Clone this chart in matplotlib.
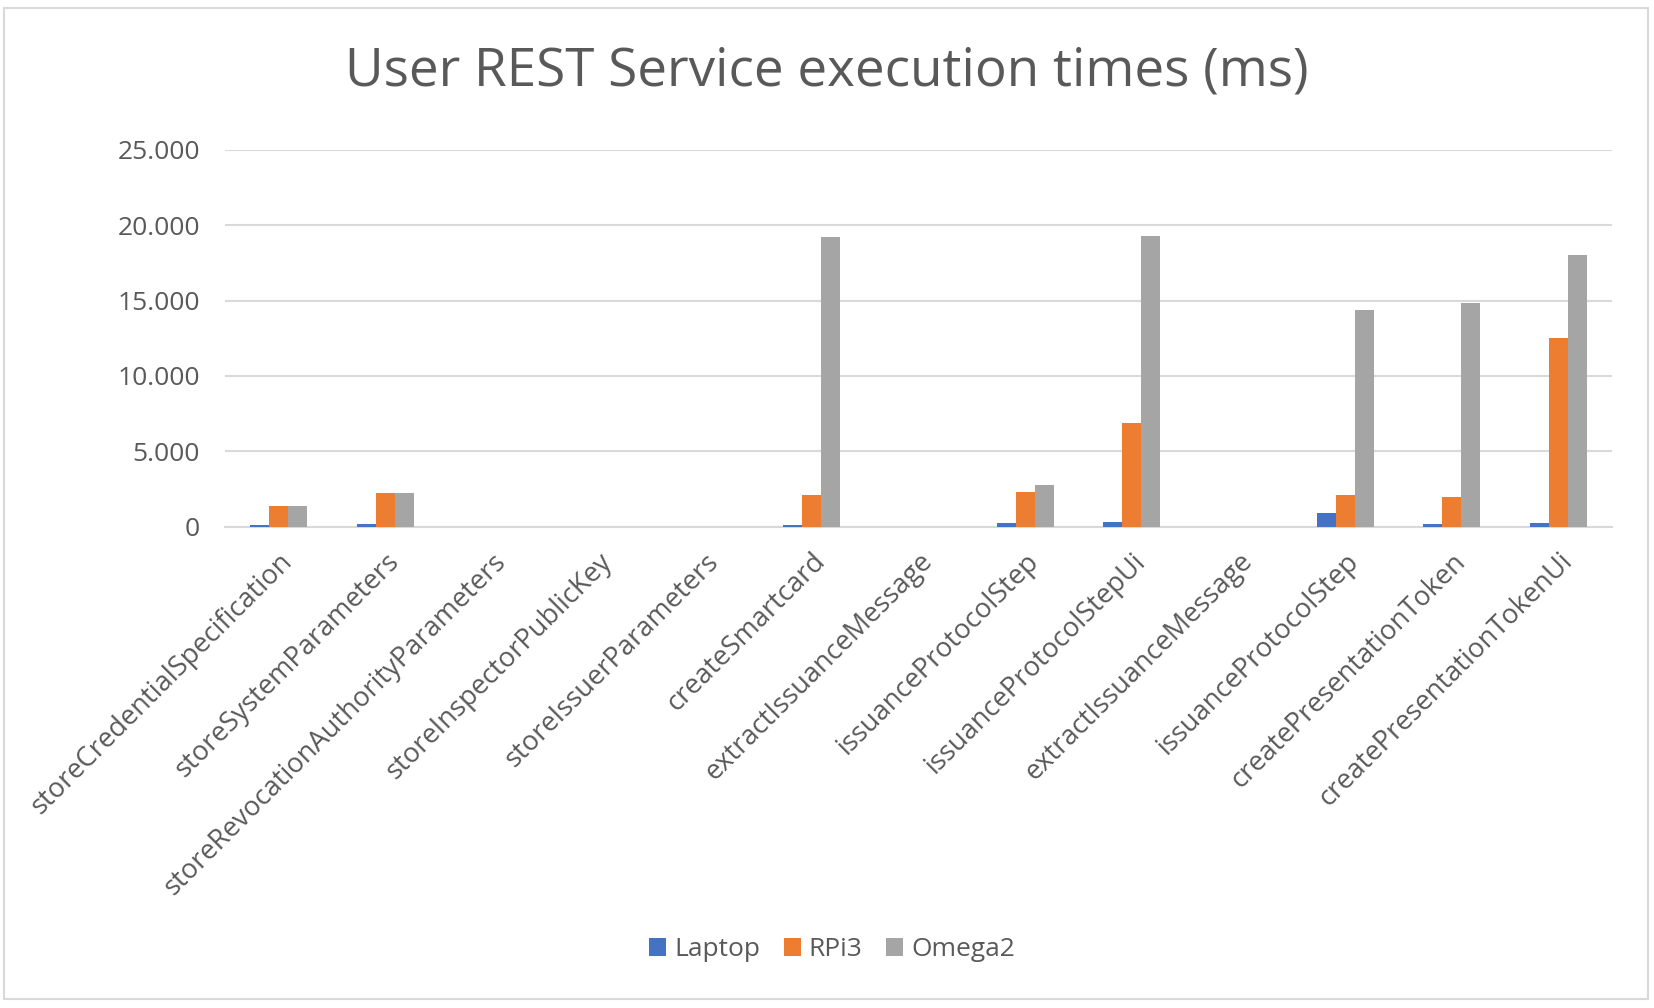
import matplotlib
matplotlib.use("Agg")
import matplotlib.pyplot as plt
import numpy as np
from matplotlib.patches import Rectangle
from matplotlib.ticker import FuncFormatter, MultipleLocator

categories = [
    "storeCredentialSpecification", "storeSystemParameters",
    "storeRevocationAuthorityParameters", "storeInspectorPublicKey",
    "storeIssuerParameters", "createSmartcard", "extractIssuanceMessage",
    "issuanceProtocolStep", "issuanceProtocolStepUi", "extractIssuanceMessage",
    "issuanceProtocolStep", "createPresentationToken", "createPresentationTokenUi",
]
laptop = [90, 180, 0, 0, 0, 90, 0, 265, 340, 0, 890, 180, 265]
rpi3 = [1370, 2215, 0, 0, 0, 2120, 0, 2280, 6900, 0, 2130, 1970, 12500]
omega2 = [1370, 2215, 0, 0, 0, 19210, 0, 2785, 19300, 0, 14350, 14810, 18020]
series_names = ["Laptop", "RPi3", "Omega2"]
colors = ["#4472C4", "#ED7D31", "#A5A5A5"]

plt.rcParams['font.family'] = ['Open Sans', 'DejaVu Sans']
txt = "#595959"

fig = plt.figure(figsize=(16.54, 10.08), dpi=100)
fig.patches.append(Rectangle((4/1654, 1-999/1008), (1648-4)/1654, (999-8)/1008,
                             transform=fig.transFigure, fill=False,
                             edgecolor="#d9d9d9", lw=1.5, zorder=0))
ax = fig.add_axes([225/1654, 1-526.7/1008, (1612-225)/1654, (526.7-149.7)/1008])

x = np.arange(len(categories))
w = 0.178
for i, (vals, name, c) in enumerate(zip([laptop, rpi3, omega2], series_names, colors)):
    ax.bar(x + (i-1)*w, vals, width=w, color=c, label=name, zorder=3)

ax.set_xlim(-0.5, len(categories)-0.5)
ax.set_ylim(0, 25000)
ax.yaxis.set_major_locator(MultipleLocator(5000))
ax.yaxis.set_major_formatter(FuncFormatter(lambda v, p: f"{int(v):,}".replace(",", ".")))
ax.grid(axis='y', color="#d9d9d9", lw=1.5, zorder=0)
for s in ['top', 'right', 'left']:
    ax.spines[s].set_visible(False)
ax.spines['bottom'].set_color("#d9d9d9")
ax.spines['bottom'].set_linewidth(1.5)
ax.tick_params(axis='both', length=0, colors=txt)
ax.tick_params(axis='y', pad=18, labelsize=19)
ax.set_xticks(x)
ax.set_xticklabels(categories, rotation=45, ha='right', rotation_mode='anchor', color=txt,
                   fontsize=19.6)
ax.tick_params(axis='x', pad=15)

fig.text(0.5 + 0.0, 1-72/1008, "User REST Service execution times (ms)", ha='center', va='center',
         fontsize=38.2, color=txt)

leg = fig.legend(loc='center', bbox_to_anchor=(832/1654, 1-950/1008), ncol=3, frameon=False,
                 fontsize=19, handlelength=0.65, handleheight=0.65, handletextpad=0.3,
                 columnspacing=0.9, labelcolor=txt)

fig.savefig("out.png", dpi=100)
